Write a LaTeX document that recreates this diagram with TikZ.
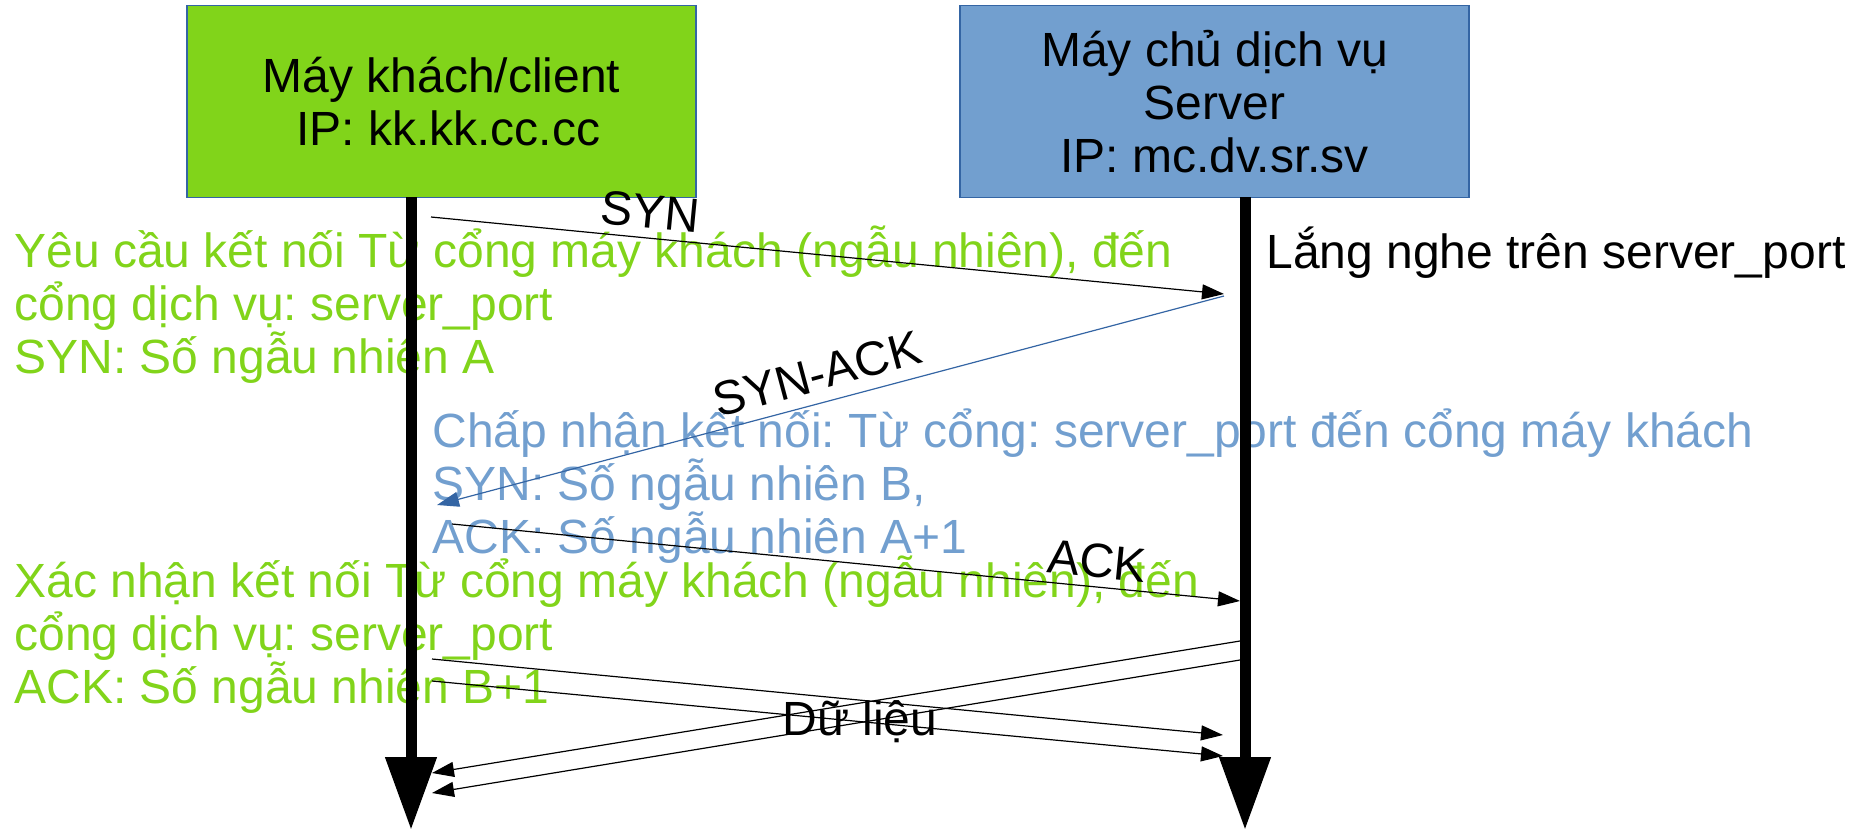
\documentclass[tikz,border=0pt]{standalone}
\usepackage{fontspec}
\setmainfont{Liberation Sans}
\usetikzlibrary{arrows.meta}
\definecolor{clientgreen}{HTML}{81D41A}
\definecolor{serverblue}{HTML}{729FCF}
\definecolor{edgeblue}{HTML}{3465A4}
\frenchspacing

\begin{document}
\begin{tikzpicture}[x=0.5pt, y=-0.5pt,
  every node/.style={font=\fontsize{24}{26.5}\selectfont},
  hostbox/.style={draw=edgeblue, line width=0.6pt, minimum width=254.5pt,
    minimum height=96pt, inner sep=0pt, align=center},
  note/.style={inner sep=0pt, align=left, anchor=base west},
  lifeline/.style={line width=5.5pt, -{Triangle[length=36.5pt,width=24.5pt]}},
  msg/.style={line width=0.6pt, -{Triangle[length=11pt,width=7.5pt]}},
  lbl/.style={inner sep=0pt}]
  \useasboundingbox (0,0) rectangle (1862,830);
  % Hosts
  \node[hostbox, fill=clientgreen] (client) at (441.5,101.5)
    {Máy khách/client\\~IP: kk.kk.cc.cc};
  \node[hostbox, fill=serverblue] (server) at (1214.5,101.5)
    {Máy chủ dịch vụ\\Server\\IP: mc.dv.sr.sv};
  % Notes (under the lines), anchored on their last line
  \node[note, text=clientgreen] (req) at (14,373)
    {Yêu cầu kết nối Từ cổng máy khách (ngẫu nhiên), đến\\cổng dịch vụ: server\_port\\SYN: Số ngẫu nhiên A};
  \node[note, text=serverblue] (accept) at (432,553)
    {Chấp nhận kết nối: Từ cổng: server\_port đến cổng máy khách\\SYN: Số ngẫu nhiên B,\\ACK: Số ngẫu nhiên A+1};
  \node[note, text=clientgreen] (confirm) at (14,703)
    {Xác nhận kết nối Từ cổng máy khách (ngẫu nhiên), đến\\cổng dịch vụ: server\_port\\ACK: Số ngẫu nhiên B+1};
  \node[note] (listen) at (1266,268) {Lắng nghe trên server\_port};
  % Lifelines
  \coordinate (ctop) at (411,197);
  \coordinate (cbot) at (411,830);
  \coordinate (stop) at (1245,197);
  \coordinate (sbot) at (1245,830);
  \draw[lifeline] (ctop) -- (cbot);
  \draw[lifeline] (stop) -- (sbot);
  % Handshake
  \coordinate (synA) at (431,217);
  \coordinate (synB) at (1224,294);
  \coordinate (saA) at (1224,296);
  \coordinate (saB) at (437,505);
  \coordinate (ackA) at (452,524);
  \coordinate (ackB) at (1240,601);
  \draw[msg] (synA) -- (synB);
  \draw[msg, edgeblue] (saA) -- (saB);
  \draw[msg] (ackA) -- (ackB);
  \node[lbl, rotate=-5.5] (synlbl) at (650,212) {SYN};
  \node[lbl, rotate=15] (salbl) at (817,374) {SYN-ACK};
  \node[lbl, rotate=-5.6] (acklbl) at (1097,561) {ACK};
  % Data
  \coordinate (d1A) at (432,659);
  \coordinate (d1B) at (1223,735);
  \coordinate (d2A) at (432,681);
  \coordinate (d2B) at (1223,756);
  \coordinate (r1A) at (1240,641);
  \coordinate (r1B) at (432,773);
  \coordinate (r2A) at (1240,660);
  \coordinate (r2B) at (432,793);
  \draw[msg] (d1A) -- (d1B);
  \draw[msg] (d2A) -- (d2B);
  \draw[msg] (r1A) -- (r1B);
  \draw[msg] (r2A) -- (r2B);
  \node[lbl] (data) at (860,722) {Dữ liệu};
\end{tikzpicture}
\end{document}
